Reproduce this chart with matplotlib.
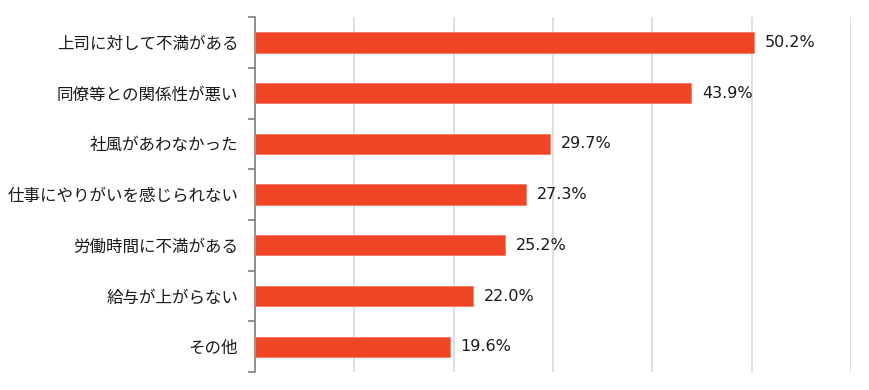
import numpy as np
import matplotlib
matplotlib.use('Agg')
import matplotlib.pyplot as plt
from matplotlib.ticker import FixedLocator

plt.rcParams['font.family'] = ['Noto Sans CJK JP', 'DejaVu Sans']

categories = ['上司に対して不満がある', '同僚等との関係性が悪い', '社風があわなかった',
              '仕事にやりがいを感じられない', '労働時間に不満がある', '給与が上がらない', 'その他']
values = [50.2, 43.9, 29.7, 27.3, 25.2, 22.0, 19.6]

fig = plt.figure(figsize=(8.7, 3.9), dpi=100)
ax = fig.add_axes([0.293, 0.046, 0.685, 0.91])

y = np.arange(len(categories))
ax.barh(y, values, height=0.4, color='#F04427', edgecolor='#F47A63', linewidth=0.6, zorder=3)

for yi, v in zip(y, values):
    ax.text(v + 1.1, yi, f'{v:.1f}%', va='center', ha='left', fontsize=11.5,
            family='DejaVu Sans', color='#1a1a1a')

ax.set_xlim(0, 60)
ax.set_ylim(len(categories) - 0.5, -0.5)
ax.set_xticks(np.arange(0, 61, 10))
ax.xaxis.grid(True, color='#D9D9D9', linewidth=1.2, zorder=0)
ax.tick_params(axis='x', length=0, labelbottom=False)

ax.set_yticks(y)
ax.set_yticklabels(categories, fontsize=11.9, color='#1a1a1a')
ax.tick_params(axis='y', which='major', length=0, pad=12)
ax.yaxis.set_minor_locator(FixedLocator(np.arange(-0.5, len(categories), 1)))
ax.tick_params(axis='y', which='minor', length=5, color='#808080', width=1.2)

for s in ['top', 'right', 'bottom']:
    ax.spines[s].set_visible(False)
ax.spines['left'].set_color('#808080')
ax.spines['left'].set_linewidth(1.2)

fig.savefig('out.png', dpi=100)
